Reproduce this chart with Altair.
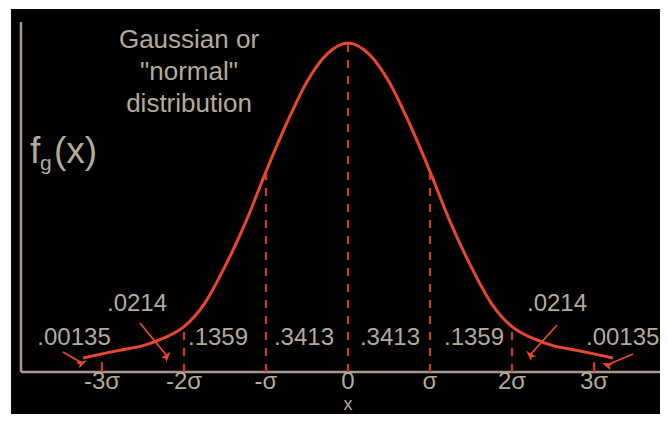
import math
import altair as alt
import pandas as pd

# ---- data (x in units of sigma, y = f_g(x)) ----
curve_x = [-3.23, -3.0, -2.75, -2.5, -2.25, -2.0, -1.75, -1.5, -1.25, -1.0, -0.75, -0.5, -0.25, 0.0,
           0.25, 0.5, 0.75, 1.0, 1.25, 1.5, 1.75, 2.0, 2.25, 2.5, 2.75, 3.0, 3.23]
curve_y = [0.017, 0.022, 0.027, 0.032, 0.041, 0.055, 0.083, 0.128, 0.181, 0.243, 0.301, 0.352, 0.386, 0.399,
           0.386, 0.352, 0.301, 0.243, 0.181, 0.128, 0.083, 0.055, 0.041, 0.032, 0.027, 0.022, 0.017]

dash_x = [-2, -1, 0, 1, 2]
dash_top = [0.055, 0.243, 0.399, 0.243, 0.055]
short_x = [-3, 3]
short_top = [0.012, 0.012]

tick_vals = [-3, -2, -1, 0, 1, 2, 3]
tick_text = ["-3σ", "-2σ", "-σ", "0", "σ", "2σ", "3σ"]

area_text = [".00135", ".0214", ".1359", ".3413", ".3413", ".1359", ".0214", ".00135"]
area_x = [-3.341, -2.573, -1.585, -0.537, 0.512, 1.537, 2.549, 3.35]
area_y = [0.0412, 0.0824, 0.0412, 0.0412, 0.0412, 0.0412, 0.0824, 0.0412]

arrow_x1 = [-3.476, -2.537, 2.549, 3.476]
arrow_y1 = [0.0242, 0.0594, 0.0570, 0.0218]
arrow_x2 = [-3.244, -2.207, 2.220, 3.159]
arrow_y2 = [0.0109, 0.0194, 0.0206, 0.0085]

title_lines = ["Gaussian or", "\"normal\"", "distribution"]
title_x = [-1.939, -1.939, -1.939]
title_y = [0.3928, 0.3540, 0.3152]

ylab_text = ["f", "g", "(x)"]
ylab_x = [-3.878, -3.756, -3.585]
ylab_y = [0.2534, 0.2449, 0.2534]
ylab_size = [37, 21, 37]

axis_title = "x"

# ---- layout ----
W, H = 649, 405
XMIN, XMAX = -4.1098, 3.8049
YMIN, YMAX = -0.05092, 0.44011
PX_X = W / (XMAX - XMIN)
PX_Y = H / (YMAX - YMIN)

xs = alt.Scale(domain=[XMIN, XMAX], nice=False, zero=False)
ys = alt.Scale(domain=[YMIN, YMAX], nice=False, zero=False)

TEXT_COLOR = "#b4aa9a"
AXIS_COLOR = "#a89a8a"
CURVE_COLOR = "#e8472e"
DASH_COLOR = "#e82a2a"
FONT = "Liberation Sans"


def X(f="x"):
    return alt.X(f"{f}:Q", scale=xs, axis=None)


def Y(f="y"):
    return alt.Y(f"{f}:Q", scale=ys, axis=None)


# axes (drawn as rules in data coordinates)
axes_df = pd.DataFrame({
    "x": [-3.988, -3.988],
    "y": [0.0, 0.0],
    "x2": [3.83, -3.988],
    "y2": [0.0, 0.4243],
})
axes = alt.Chart(axes_df).mark_rule(color=AXIS_COLOR, strokeWidth=2.5, clip=True).encode(
    x=X(), y=Y(), x2="x2:Q", y2="y2:Q")

dash_df = pd.DataFrame({"x": dash_x, "y": [0.0] * len(dash_x), "y2": dash_top})
dashes = alt.Chart(dash_df).mark_rule(color=DASH_COLOR, strokeWidth=2, strokeDash=[8, 8]).encode(
    x=X(), y=Y(), y2="y2:Q")

short_df = pd.DataFrame({"x": short_x, "y": [0.0] * len(short_x), "y2": short_top})
shorts = alt.Chart(short_df).mark_rule(color=DASH_COLOR, strokeWidth=2).encode(
    x=X(), y=Y(), y2="y2:Q")

curve_df = pd.DataFrame({"x": curve_x, "y": curve_y})
curve = alt.Chart(curve_df).mark_line(color=CURVE_COLOR, strokeWidth=3, interpolate="monotone").encode(
    x=X(), y=Y())

arrow_df = pd.DataFrame({"x": arrow_x1, "y": arrow_y1, "x2": arrow_x2, "y2": arrow_y2})
arrows = alt.Chart(arrow_df).mark_rule(color=CURVE_COLOR, strokeWidth=1.8).encode(
    x=X(), y=Y(), x2="x2:Q", y2="y2:Q")

angles = []
for a, b, c, d in zip(arrow_x1, arrow_y1, arrow_x2, arrow_y2):
    ang = math.degrees(math.atan2((c - a) * PX_X, (b - d) * PX_Y))
    angles.append(ang % 360)
head_df = pd.DataFrame({"x": arrow_x2, "y": arrow_y2, "ang": angles})
heads = alt.Chart(head_df).mark_point(
    shape="M0,-1L0.6,0.9L0,0.5L-0.6,0.9Z", filled=True, color=CURVE_COLOR, size=130, opacity=1
).encode(x=X(), y=Y(), angle=alt.Angle("ang:Q", scale=None))

area_df = pd.DataFrame({"x": area_x, "y": area_y, "t": area_text})
area_labels = alt.Chart(area_df).mark_text(
    font=FONT, fontSize=24, color=TEXT_COLOR, align="center", baseline="middle"
).encode(x=X(), y=Y(), text="t:N")

tick_df = pd.DataFrame({"x": tick_vals, "y": [-0.0121] * len(tick_vals), "t": tick_text})
tick_labels = alt.Chart(tick_df).mark_text(
    font=FONT, fontSize=24, color=TEXT_COLOR, align="center", baseline="middle"
).encode(x=X(), y=Y(), text="t:N")

xt_df = pd.DataFrame({"x": [0.0], "y": [-0.0400], "t": [axis_title]})
x_title = alt.Chart(xt_df).mark_text(
    font=FONT, fontSize=18, color=TEXT_COLOR, align="center", baseline="middle"
).encode(x=X(), y=Y(), text="t:N")

title_df = pd.DataFrame({"x": title_x, "y": title_y, "t": title_lines})
title = alt.Chart(title_df).mark_text(
    font=FONT, fontSize=26, color=TEXT_COLOR, align="center", baseline="alphabetic"
).encode(x=X(), y=Y(), text="t:N")

ylab_df = pd.DataFrame({"x": ylab_x, "y": ylab_y, "t": ylab_text, "fs": ylab_size})
ylab = alt.Chart(ylab_df).mark_text(
    font=FONT, color=TEXT_COLOR, align="left", baseline="alphabetic"
).encode(x=X(), y=Y(), text="t:N", size=alt.Size("fs:Q", scale=None, legend=None))

chart = alt.layer(
    axes, dashes, shorts, curve, arrows, heads, area_labels, tick_labels, x_title, title, ylab
).properties(
    width=W, height=H,
    padding={"left": 3, "top": 1, "right": 0, "bottom": 0},
    autosize=alt.AutoSizeParams(type="none"),
    background="white",
).configure_view(fill="black", stroke="black", strokeWidth=0)

chart.save("out.html", embed_options={"renderer": "svg", "actions": False})
